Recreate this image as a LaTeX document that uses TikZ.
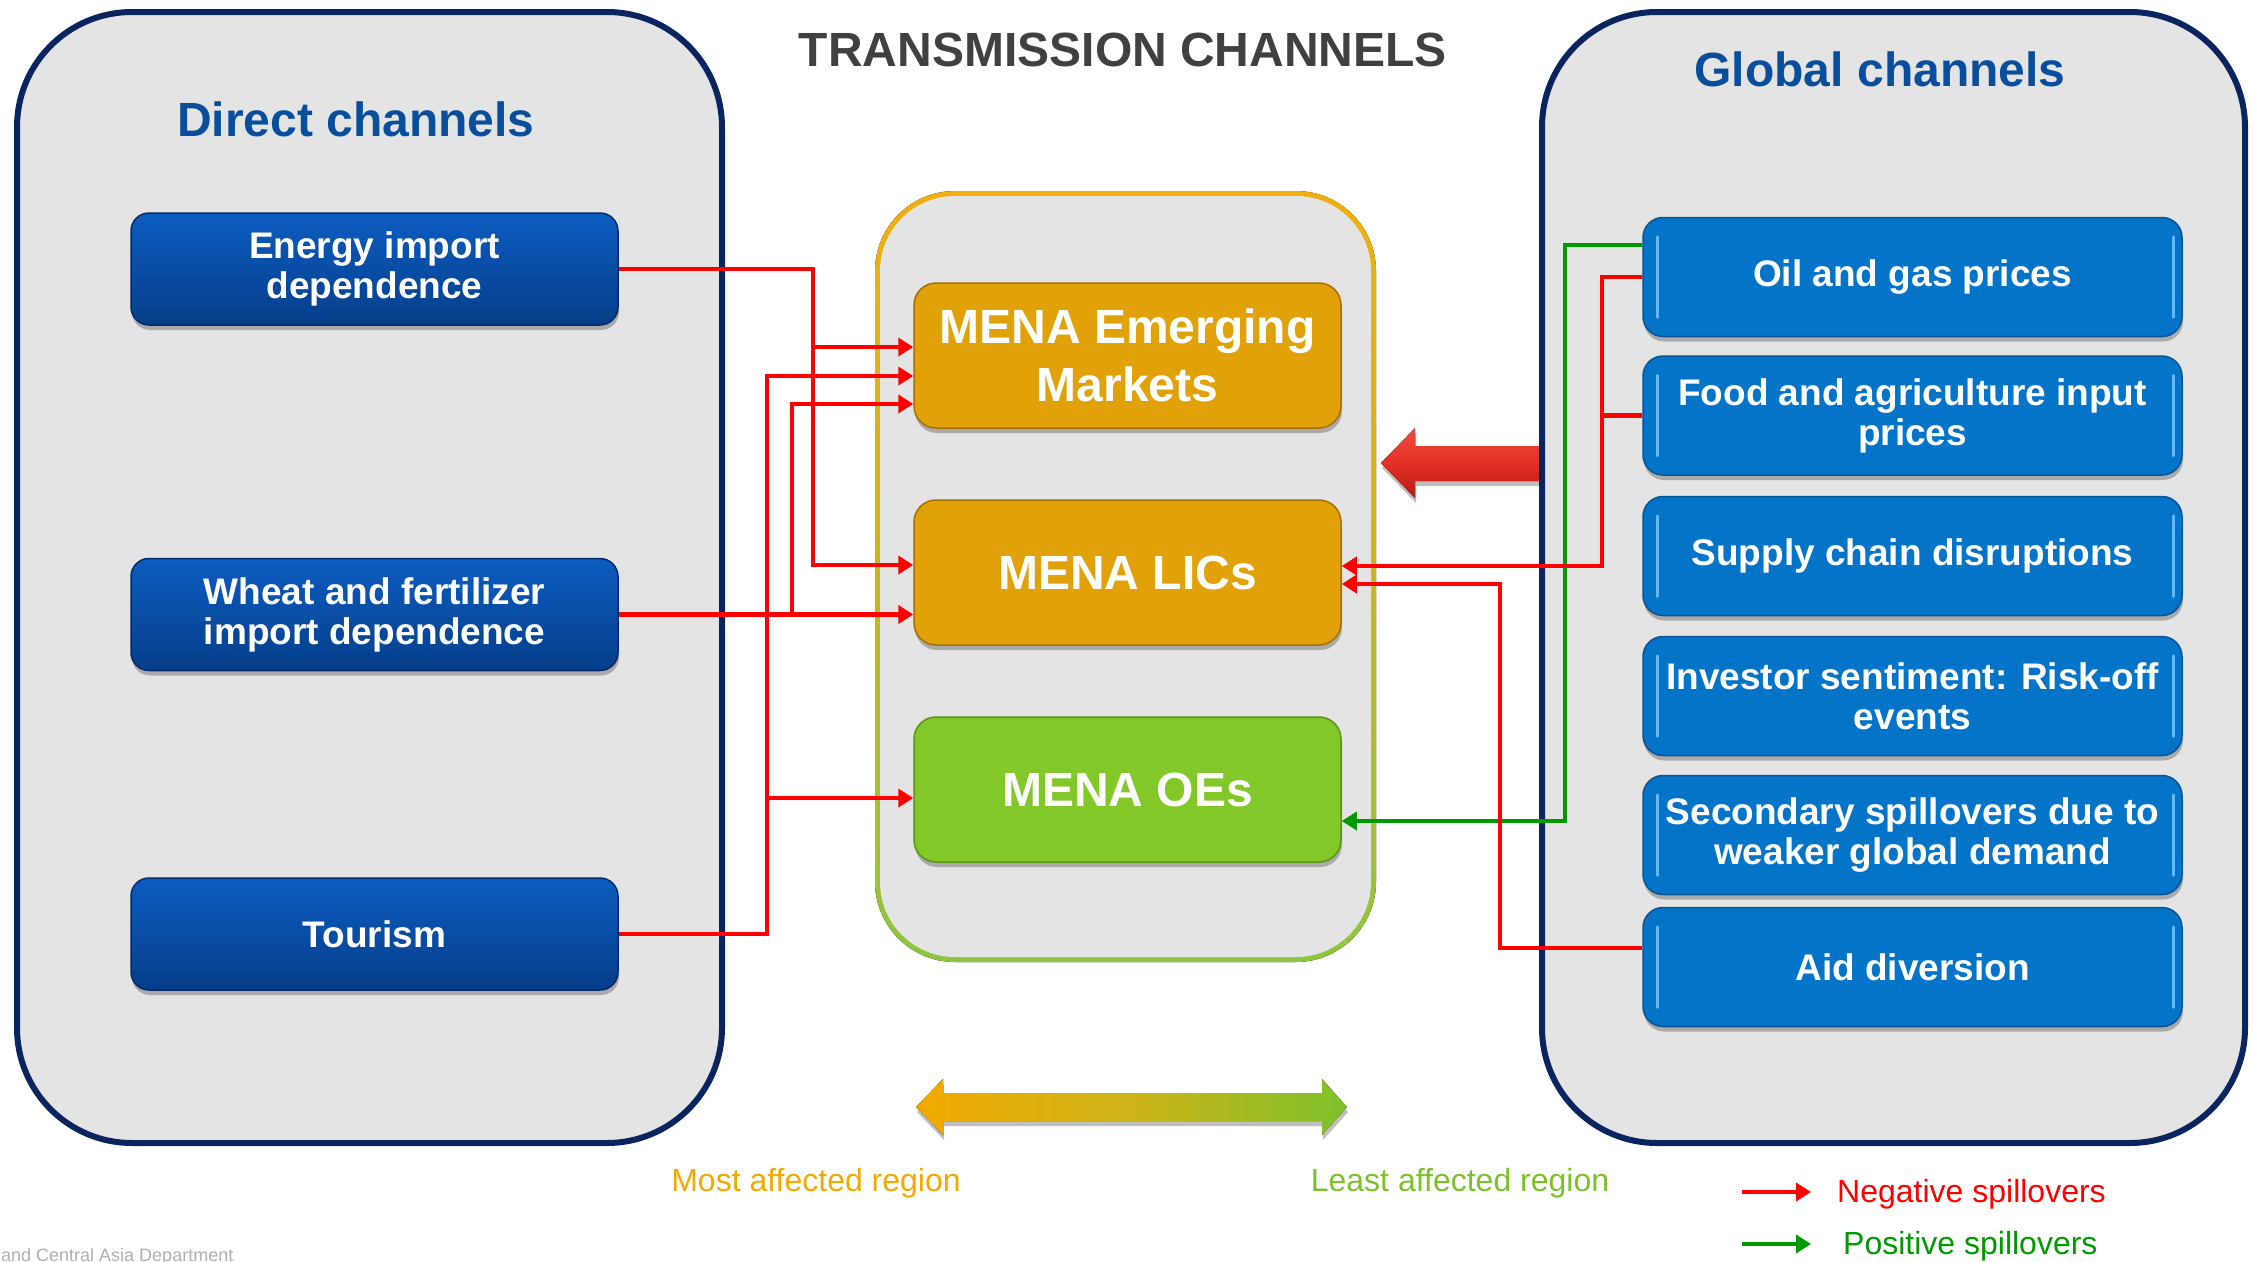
\documentclass[tikz,border=0pt]{standalone}
\usepackage{fontspec}
\setmainfont{Liberation Sans}
\usetikzlibrary{arrows.meta,shadows,calc}

\definecolor{navy}{RGB}{10,36,96}
\definecolor{panelgray}{RGB}{228,228,228}
\definecolor{titleblue}{RGB}{9,78,156}
\definecolor{titlegray}{RGB}{64,64,64}
\definecolor{dblueA}{RGB}{12,92,192}
\definecolor{dblueB}{RGB}{5,62,138}
\definecolor{dblueE}{RGB}{4,42,105}
\definecolor{bblue}{RGB}{4,116,200}
\definecolor{bblueE}{RGB}{8,84,150}
\definecolor{hlblue}{RGB}{100,185,245}
\definecolor{mango}{RGB}{224,162,8}
\definecolor{mangoE}{RGB}{165,112,0}
\definecolor{lime}{RGB}{130,200,40}
\definecolor{limeE}{RGB}{88,150,20}
\definecolor{negred}{RGB}{255,0,0}
\definecolor{posgreen}{RGB}{0,153,0}
\definecolor{bdorange}{RGB}{242,174,14}
\definecolor{bdmid}{RGB}{205,180,25}
\definecolor{bdgreen}{RGB}{141,198,63}
\definecolor{lblorange}{RGB}{242,169,0}
\definecolor{lblgreen}{RGB}{125,193,42}
\definecolor{arrred}{RGB}{226,48,38}
\definecolor{arrredL}{RGB}{240,75,60}
\definecolor{arrredD}{RGB}{185,25,20}
\definecolor{footgray}{RGB}{175,175,175}

\newcommand\chanfont{\fontsize{37}{40}\selectfont\bfseries}
\newcommand\menafont{\fontsize{48}{58}\selectfont\bfseries}
\newcommand\headfont{\fontsize{48}{54}\selectfont\bfseries}
\newcommand\lblfont{\fontsize{32}{36}\selectfont}

\tikzset{
  panel/.style={fill=panelgray, draw=navy, line width=6pt, rounded corners=115pt},
  shad/.style={drop shadow={shadow xshift=1pt, shadow yshift=-5pt, opacity=0.25, fill=black}},
  dirbox/.style={shad, draw=dblueE, line width=1.5pt, rounded corners=18pt,
    top color=dblueA, bottom color=dblueB, minimum width=487pt, minimum height=112pt,
    inner sep=0pt, align=center, text=white, font=\chanfont},
  glbox/.style={shad, fill=bblue, draw=bblueE, line width=1.5pt, rounded corners=20pt,
    minimum width=539pt, minimum height=119pt, inner sep=0pt, align=center,
    text=white, font=\chanfont},
  menabox/.style={shad, line width=1.5pt, rounded corners=22pt, minimum width=427pt,
    minimum height=145pt, inner sep=0pt, align=center, text=white, font=\menafont},
  hl/.style={draw=hlblue, line width=3pt, line cap=round},
  negline/.style={draw=negred, line width=4.5pt},
  negarrow/.style={negline, -{Triangle[length=15pt,width=18pt]}},
  posarrow/.style={draw=posgreen, line width=3.5pt, -{Triangle[length=15pt,width=18pt]}},
}

\begin{document}
\begin{tikzpicture}[x=1pt,y=-1pt]
\useasboundingbox (0,0) rectangle (2254,1261);

% side panels
\draw[panel] (17,12) rectangle (722,1143);
\draw[panel] (1542,12) rectangle (2245,1143);

% centre panel with gradient border
\fill[rounded corners=80pt, top color=bdorange, bottom color=bdgreen, middle color=bdmid] (875,191) rectangle (1376,962);
\fill[panelgray, rounded corners=75pt] (880,196) rectangle (1371,957);

% titles
\node[font=\headfont, text=titlegray] (title) at (1123,50) {TRANSMISSION CHANNELS};
\node[font=\headfont, text=titleblue] (dtitle) at (356,119) {Direct channels};
\node[font=\headfont, text=titleblue] (gtitle) at (1880,69) {Global channels};

% direct channels
\node[dirbox] (e1) at (374.5,269) {Energy import\\dependence};
\node[dirbox] (e2) at (374.5,614.5) {Wheat and fertilizer\\import dependence};
\node[dirbox] (e3) at (374.5,934) {Tourism};

% MENA groups
\node[menabox, fill=mango, draw=mangoE] (m1) at (1127.5,355.5) {MENA Emerging\\Markets};
\node[menabox, fill=mango, draw=mangoE] (m2) at (1127.5,572.5) {MENA LICs};
\node[menabox, fill=lime, draw=limeE] (m3) at (1127.5,789.5) {MENA OEs};

% global channels
\node[glbox] (g1) at (1912.5,277) {Oil and gas prices};
\node[glbox] (g2) at (1912.5,415.5) {Food and agriculture input\\prices};
\node[glbox] (g3) at (1912.5,556) {Supply chain disruptions};
\node[glbox] (g4) at (1912.5,696) {Investor sentiment: Risk-off\\events};
\node[glbox] (g5) at (1912.5,835) {Secondary spillovers due to\\weaker global demand};
\node[glbox] (g6) at (1912.5,967) {Aid diversion};
\foreach \g in {g1,g2,g3,g4,g5,g6}{
  \draw[hl] ([shift={(15pt,-20pt)}]\g.north west) -- ([shift={(15pt,20pt)}]\g.south west);
  \draw[hl] ([shift={(-9pt,-20pt)}]\g.north east) -- ([shift={(-9pt,20pt)}]\g.south east);
}

% helper coordinates for connector routing
\coordinate (vE) at (813,0);
\coordinate (vW) at (792,0);
\coordinate (vT) at (767,0);
\coordinate (yA) at (0,347);
\coordinate (yB) at (0,376);
\coordinate (yC) at (0,404);
\coordinate (yD) at (0,565);
\coordinate (yF) at (0,798);
\coordinate (vG) at (1565,0);
\coordinate (vR) at (1602,0);
\coordinate (vA) at (1500,0);
\coordinate (yG) at (0,245);
\coordinate (yH) at (0,566);
\coordinate (yI) at (0,584);
\coordinate (yJ) at (0,821);
\coordinate (yK) at (0,948);

% direct connectors
\draw[negarrow] (e1.east) -| (vE |- yD) -- (m2.west |- yD);
\draw[negarrow] (vE |- yA) -- (m1.west |- yA);
\draw[negarrow] (e2.east) -- (m2.west |- e2.east);
\draw[negarrow] (vW |- e2.east) |- (m1.west |- yC);
\draw[negarrow] (e3.east) -| (vT |- yB) -- (m1.west |- yB);
\draw[negarrow] (vT |- yF) -- (m3.west |- yF);

% global connectors
\draw[posarrow] (g1.west |- yG) -| (vG |- yJ) -- (m3.east |- yJ);
\draw[negarrow] (g1.west) -| (vR |- yH) -- (m2.east |- yH);
\draw[negline] (g2.west) -- (vR |- g2.west);
\draw[negarrow] (g6.west |- yK) -| (vA |- yI) -- (m2.east |- yI);

% big red arrow
\fill[top color=arrredL, bottom color=arrredD, middle color=arrred, shad]
  (1381,463) -- (1415,428) -- (1415,446) -- (1539,446) -- (1539,481) -- (1415,481) -- (1415,498) -- cycle;

% double arrow
\fill[left color=lblorange, right color=lblgreen, middle color=bdmid, shad]
  (916,1107) -- (943,1079) -- (943,1093) -- (1322,1093) -- (1322,1079) -- (1347,1107)
  -- (1322,1135) -- (1322,1121) -- (943,1121) -- (943,1135) -- cycle;

\node[font=\lblfont, text=lblorange] (most) at (816,1183) {Most affected region};
\node[font=\lblfont, text=lblgreen] (least) at (1460,1183) {Least affected region};

% legend
\coordinate (ln1) at (1742,1192);
\coordinate (ln2) at (1811,1192);
\coordinate (lp1) at (1742,1244);
\coordinate (lp2) at (1811,1244);
\draw[negarrow, line width=4.5pt] (ln1) -- (ln2);
\draw[posarrow, line width=4.5pt] (lp1) -- (lp2);
\node[font=\lblfont, text=negred, anchor=west, inner sep=0pt] (lneg) at (1837,1194) {Negative spillovers};
\node[font=\lblfont, text=posgreen, anchor=west, inner sep=0pt] (lpos) at (1843,1246) {Positive spillovers};

% footer
\node[font=\fontsize{18}{18}\selectfont, text=footgray, anchor=base west, inner sep=0pt] (foot) at (1,1261) {and Central Asia Department};
\end{tikzpicture}
\end{document}
